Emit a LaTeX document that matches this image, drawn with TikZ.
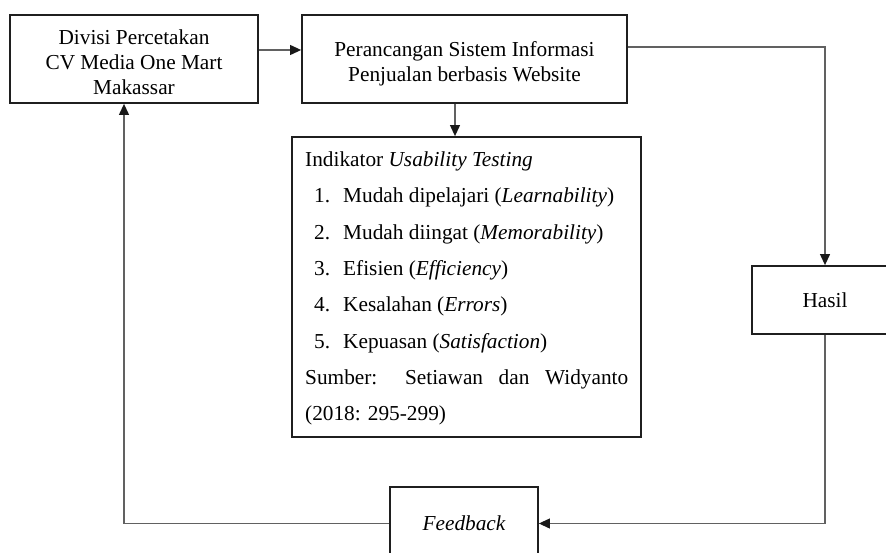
\documentclass[tikz,border=0pt]{standalone}
\usepackage{fontspec}
\setmainfont{Liberation Serif}
\usetikzlibrary{arrows.meta}
\begin{document}
\begin{tikzpicture}[x=1pt,y=-1pt,
  box/.style={draw=black!88, line width=1.8pt, inner sep=0pt, align=center, font=\fontsize{21.3}{24.5}\selectfont},
  lbl/.style={inner sep=0pt, align=center, font=\fontsize{21.3}{25}\selectfont},
  conn/.style={draw=black!62, line width=1.1pt},
  arr/.style={conn, -{Triangle[length=11pt,width=10pt,color=black!90]}},
  txt/.style={anchor=base west, inner sep=0pt, font=\fontsize{21.3}{25}\selectfont}]
\useasboundingbox (0,0) rectangle (886,553);
\fill[white] (0,0) rectangle (886,553);
% boxes
\node[box, minimum width=248pt, minimum height=88pt] (div) at (134,59) {};
\node[lbl] (divt) at (134,62) {Divisi Percetakan\\CV Media One Mart\\Makassar};
\node[box, minimum width=325pt, minimum height=88pt] (sis) at (464.5,59) {};
\node[lbl] (sist) at (464.5,64) {Perancangan Sistem Informasi\\Penjualan berbasis Website};
\node[box, minimum width=349pt, minimum height=300pt] (ind) at (466.5,287) {};
\node[box, minimum width=146pt, minimum height=68pt] (has) at (825,300) {Hasil};
\node[box, minimum width=148pt, minimum height=73pt] (fb) at (464,523.5) {\itshape Feedback};
% indicator texts
\node[txt] (t0) at (305,167) {Indikator \textit{Usability Testing}};
\node[txt] (n1) at (314,203) {1.};
\node[txt] (t1) at (343,203) {Mudah dipelajari (\textit{Learnability})};
\node[txt] (n2) at (314,239.5) {2.};
\node[txt] (t2) at (343,239.5) {Mudah diingat (\textit{Memorability})};
\node[txt] (n3) at (314,275.5) {3.};
\node[txt] (t3) at (343,275.5) {Efisien (\textit{Efficiency})};
\node[txt] (n4) at (314,312) {4.};
\node[txt] (t4) at (343,312) {Kesalahan (\textit{Errors})};
\node[txt] (n5) at (314,348) {5.};
\node[txt] (t5) at (343,348) {Kepuasan (\textit{Satisfaction})};
\node[txt] (t6) at (305,384) {\makebox[323pt][s]{Sumber: Setiawan dan Widyanto}};
\node[txt] (t7) at (305,420.5) {(2018: 295-299)};
% connectors
\draw[arr] ([yshift=9pt]div.east) -- ([yshift=9pt]sis.west);
\draw[arr] ([xshift=-9.5pt]sis.south) -- ([xshift=-9.5pt]sis.south |- ind.north);
\draw[arr] ([yshift=12pt]sis.east) -| (has.north);
\draw[arr] (has.south) |- (fb.east);
\draw[arr] (fb.west) -| ([xshift=-10pt]div.south);
\end{tikzpicture}
\end{document}
